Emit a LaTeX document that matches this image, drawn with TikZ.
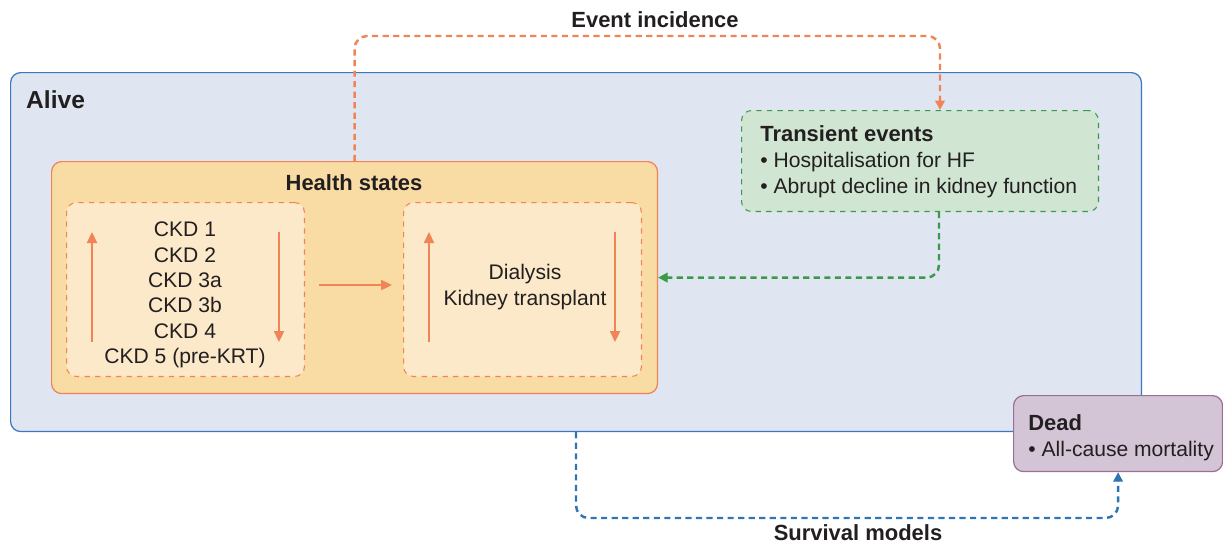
\documentclass[tikz,border=0pt]{standalone}
\usepackage{fontspec}
\setmainfont{Liberation Sans}
\usepackage{tikz}
\usetikzlibrary{arrows.meta}
\definecolor{aliveblue}{RGB}{223,229,241}
\definecolor{aliveline}{RGB}{59,120,194}
\definecolor{hsfill}{RGB}{249,220,164}
\definecolor{hsinner}{RGB}{252,233,201}
\definecolor{orng}{RGB}{240,132,86}
\definecolor{tefill}{RGB}{208,229,210}
\definecolor{dgreen}{RGB}{58,154,72}
\definecolor{svblue}{RGB}{46,117,182}
\definecolor{deadfill}{RGB}{212,197,214}
\definecolor{deadline}{RGB}{155,110,150}
\definecolor{txt}{RGB}{35,31,32}

\begin{document}
\begin{tikzpicture}[x=0.02cm,y=-0.02cm,
  every node/.style={text=txt,font=\fontsize{12}{14.4}\selectfont},
  box/.style={rounded corners=0.2cm,anchor=north west,inner sep=0},
  inbox/.style={box,draw=orng,fill=hsinner,dashed,line width=0.6pt,
    minimum width=4.76cm,minimum height=3.48cm},
  title/.style={font=\bfseries\fontsize{12.5}{15}\selectfont},
  stateArrow/.style={orng,line width=1.3pt,-{Triangle[length=2.2mm,width=2mm]}},
  link/.style={line width=1.4pt,dash pattern=on 3.5pt off 2.5pt,rounded corners=0.25cm,
    -{Triangle[length=1.9mm,width=1.9mm]}}]
\useasboundingbox (0,0) rectangle (1223,545);
\node[box,draw=aliveline,fill=aliveblue,line width=0.7pt,minimum width=22.62cm,minimum height=7.18cm] (alive) at (10,72) {};
\node[title,font=\bfseries\fontsize{14}{16}\selectfont,anchor=west] (aliveT) at (20,100) {Alive};
\node[box,draw=orng,fill=hsfill,line width=0.7pt,minimum width=12.12cm,minimum height=4.64cm] (hs) at (51,161) {};
\node[title] (hsT) at (354,183) {Health states};
\node[inbox] (ckd) at (66,202) {};
\node[inbox] (krt) at (403,202) {};
\node[align=center] (ckdT) at (185,295) {CKD 1\\CKD 2\\CKD 3a\\CKD 3b\\CKD 4\\CKD 5 (pre-KRT)};
\node[align=center] (krtT) at (525,287) {Dialysis\\Kidney transplant};
\draw[stateArrow] (92,342) -- (92,232);
\draw[stateArrow] (279,232) -- (279,342);
\draw[stateArrow] (429,342) -- (429,232);
\draw[stateArrow] (615,232) -- (615,342);
\draw[stateArrow] (ckd.east |- 0,285) ++(14,0) -- (392,285);
\node[box,draw=dgreen,fill=tefill,dashed,line width=0.6pt,minimum width=7.14cm,minimum height=2.02cm] (te) at (741,110) {};
\node[anchor=west,align=left,inner sep=0,font=\fontsize{12}{14.7}\selectfont] (teT) at (760,162)
  {\textbf{\fontsize{12.5}{14.7}\selectfont Transient events}\\\textbullet\ Hospitalisation for HF\\\textbullet\ Abrupt decline in kidney function};
\node[box,draw=deadline,fill=deadfill,line width=0.7pt,minimum width=4.18cm,minimum height=1.52cm] (dead) at (1013,395) {};
\node[anchor=west,align=left,inner sep=0,font=\fontsize{12}{14.7}\selectfont] (deadT) at (1028,438)
  {\textbf{\fontsize{12.5}{14.7}\selectfont Dead}\\\textbullet\ All-cause mortality};
\coordinate (ei) at (940,36);
\coordinate (gr) at (939,278);
\coordinate (sv) at (850,518);
\draw[link,orng] (hs.north) |- (ei) -- (ei |- te.north);
\draw[link,dgreen] (te.south -| gr) |- (hs.east);
\draw[link,svblue] (alive.south) |- (sv) -| (dead.south);
\node[title] (eiT) at (655,20) {Event incidence};
\node[title] (svT) at (858,533) {Survival models};
\end{tikzpicture}
\end{document}
